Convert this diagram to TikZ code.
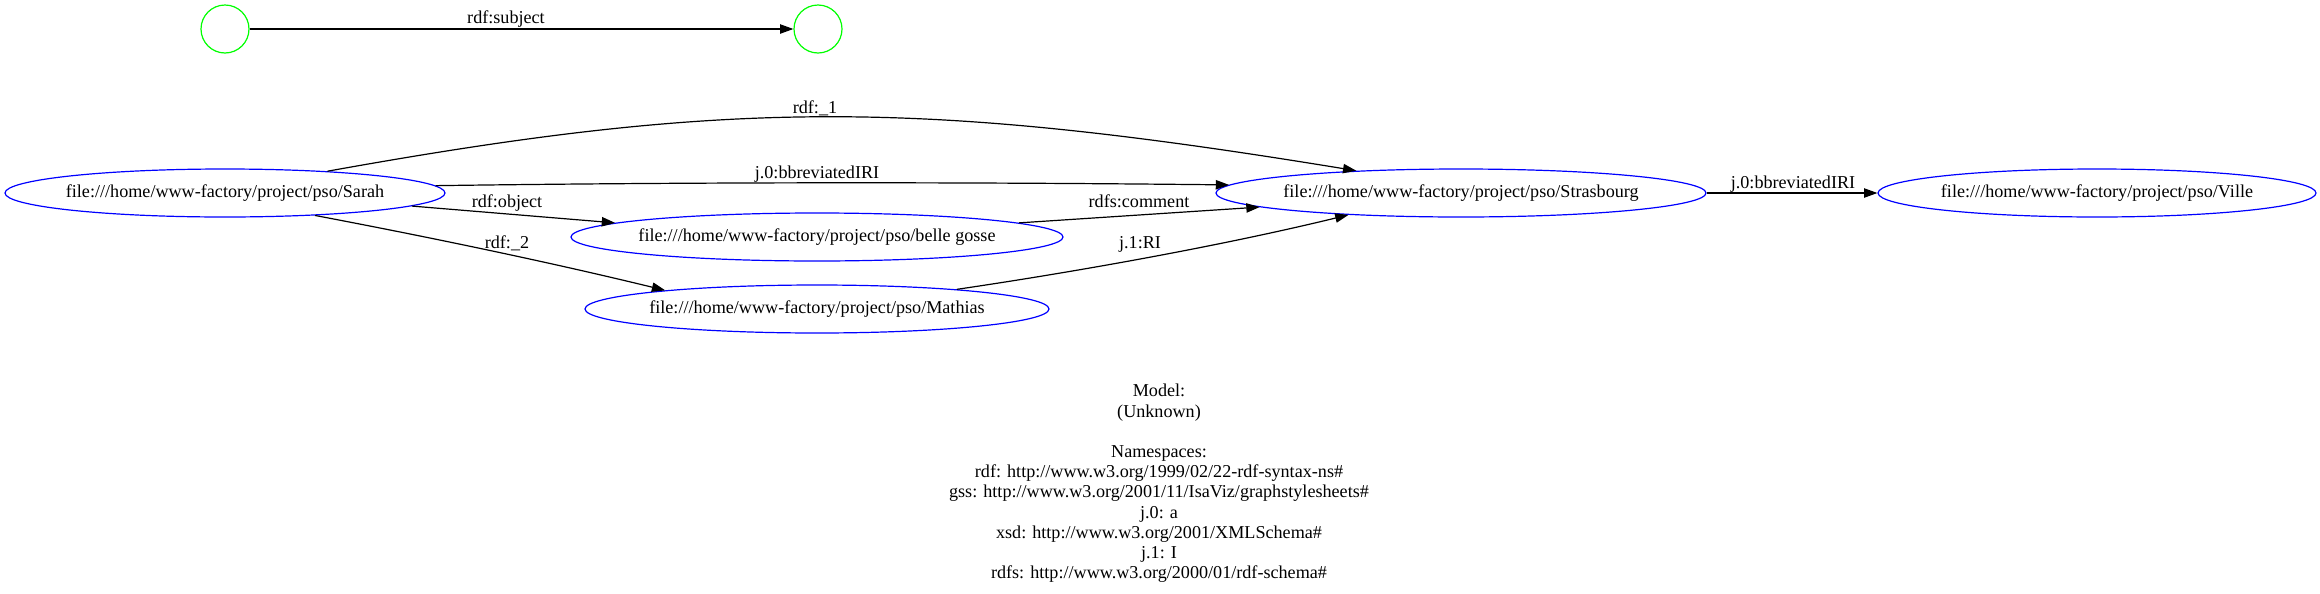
\documentclass[tikz,border=0pt]{standalone}
\usepackage{fontspec}
\setmainfont{Liberation Serif}
\usetikzlibrary{shapes.geometric,arrows.meta}
\definecolor{gvgreen}{RGB}{0,255,0}
\definecolor{gvblue}{RGB}{0,0,255}
\begin{document}
\begin{tikzpicture}[x=0.75pt,y=-0.75pt,
  txt/.style={font=\fontsize{13.6}{15.15}\selectfont},
  lbl/.style={txt, inner sep=0pt, anchor=base},
  res/.style={ellipse, draw=gvblue, line width=0.9pt, inner xsep=-30pt, inner ysep=0pt, minimum height=36pt, txt},
  blank/.style={circle, draw=gvgreen, line width=0.9pt, minimum size=36pt, inner sep=0pt},
  link/.style={draw=black, line width=0.9pt, -{Triangle[length=10pt,width=7pt]}}
]
\useasboundingbox (0,0) rectangle (2320,593);
\node[blank] (c1) at (225,29) {};
\node[blank] (c2) at (818,29) {};
\node[res, minimum width=330pt] (sarah) at (225,193) {file:///home/www-factory/project/pso/Sarah};
\node[res, minimum width=369pt] (belle) at (817,237) {file:///home/www-factory/project/pso/belle gosse};
\node[res, minimum width=348pt] (mathias) at (817,309) {file:///home/www-factory/project/pso/Mathias};
\node[res, minimum width=367.5pt] (stras) at (1461,193) {file:///home/www-factory/project/pso/Strasbourg};
\node[res, minimum width=328.5pt] (ville) at (2097,193) {file:///home/www-factory/project/pso/Ville};

\draw[link] (c1) -- (c2);
\draw[link] (sarah.12) .. controls (729,99) and (918,99) .. (stras.168);
\draw[link] (sarah.2) .. controls (700,182) and (960,182) .. (stras.178);
\draw[link] (sarah.-4) -- (belle.176);
\draw[link] (sarah.-14) .. controls (434,238) and (553,263) .. (mathias.173);
\draw[link] (belle.4) -- (stras.184);
\draw[link] (mathias.8) .. controls (1088,270) and (1229,244) .. (stras.191);
\draw[link] (stras) -- (ville);

\node[lbl] (l1) at (506,23) {rdf:subject};
\node[lbl] (l2) at (815,113) {rdf:\_1};
\node[lbl] (l3) at (817,178) {j.0:bbreviatedIRI};
\node[lbl] (l4) at (507,207) {rdf:object};
\node[lbl] (l5) at (507,248) {rdf:\_2};
\node[lbl] (l6) at (1139,207) {rdfs:comment};
\node[lbl] (l7) at (1140,248) {j.1:RI};
\node[lbl] (l8) at (1793,188) {j.0:bbreviatedIRI};

\node[txt, align=center, inner sep=0pt, anchor=north] (legend) at (1159,384) {Model:\\(Unknown)\\[15.15pt]Namespaces:\\rdf: http://www.w3.org/1999/02/22-rdf-syntax-ns\#\\gss: http://www.w3.org/2001/11/IsaViz/graphstylesheets\#\\j.0: a\\xsd: http://www.w3.org/2001/XMLSchema\#\\j.1: I\\rdfs: http://www.w3.org/2000/01/rdf-schema\#};
\end{tikzpicture}
\end{document}
